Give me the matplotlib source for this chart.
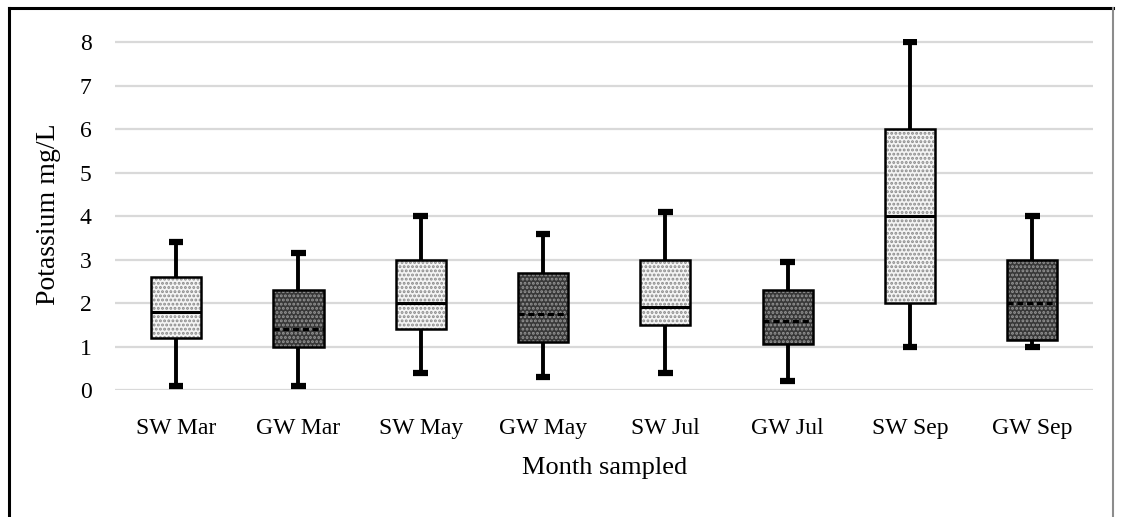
import matplotlib
matplotlib.use("Agg")
import matplotlib.pyplot as plt
from matplotlib.patches import PathPatch
from matplotlib.lines import Line2D

# Potassium concentrations per sampling (five-number summaries)
labels = ["SW Mar", "GW Mar", "SW May", "GW May", "SW Jul", "GW Jul", "SW Sep", "GW Sep"]
whislo = [0.1, 0.1, 0.4, 0.3, 0.4, 0.2, 1.0, 1.0]
q1 = [1.2, 1.0, 1.4, 1.1, 1.5, 1.05, 2.0, 1.15]
med = [1.8, 1.4, 2.0, 1.75, 1.9, 1.6, 4.0, 2.0]
q3 = [2.6, 2.3, 3.0, 2.7, 3.0, 2.3, 6.0, 3.0]
whishi = [3.4, 3.15, 4.0, 3.6, 4.1, 2.95, 8.0, 4.0]

plt.rcParams["font.family"] = ["Liberation Serif", "DejaVu Serif"]
plt.rcParams["hatch.linewidth"] = 1.4

fig = plt.figure(figsize=(11.22, 5.17), dpi=100)
ax = fig.add_axes([0.1025, 0.2456, 0.872, 0.679])

stats = []
for i, lab in enumerate(labels):
    stats.append(dict(label=lab, whislo=whislo[i], q1=q1[i], med=med[i],
                      q3=q3[i], whishi=whishi[i], fliers=[]))

bp = ax.bxp(stats, positions=range(len(labels)), widths=0.41, patch_artist=True,
            showfliers=False, capwidths=0.12,
            whiskerprops=dict(color="black", lw=2.8),
            capprops=dict(color="black", lw=4.5, solid_capstyle="butt"),
            medianprops=dict(color="black", lw=2.2))

for i, box in enumerate(bp["boxes"]):
    surface = labels[i].startswith("SW")
    if surface:
        box.set_facecolor("#f4f4f4")
        box.set_edgecolor("#8a8a8a")
    else:
        box.set_facecolor("#383838")
        box.set_edgecolor("#959595")
        bp["medians"][i].set_linestyle((0, (2, 1.2)))
    box.set_hatch("....")
    box.set_linewidth(0)
    ax.add_patch(PathPatch(box.get_path(), transform=box.get_transform(),
                           fill=False, edgecolor="black", lw=1.8, zorder=3))

for ln in bp["whiskers"] + bp["caps"]:
    ln.set_zorder(1.5)
for m in bp["medians"]:
    m.set_zorder(4)

ax.set_xlim(-0.5, 7.5)
ax.set_ylim(0, 8.08)
ax.set_yticks(range(0, 9))
ax.yaxis.grid(True, color="#d9d9d9", lw=1.6)
ax.set_axisbelow(True)
for s in ax.spines.values():
    s.set_visible(False)
ax.tick_params(axis="both", length=0)
ax.tick_params(axis="y", pad=17, labelsize=17)
ax.tick_params(axis="x", pad=20, labelsize=17)
ax.set_ylabel("Potassium mg/L", fontsize=20, labelpad=13)
ax.set_xlabel("Month sampled", fontsize=19, labelpad=13)

# outer frame
fig.add_artist(Line2D([0.008, 0.008], [-0.01, 0.985], color="black", lw=2.2))
fig.add_artist(Line2D([0.008, 0.992], [0.985, 0.985], color="black", lw=2.2))
fig.add_artist(Line2D([0.992, 0.992], [-0.01, 0.985], color="#8c8c8c", lw=1.5))

fig.savefig("out.png", dpi=100)
